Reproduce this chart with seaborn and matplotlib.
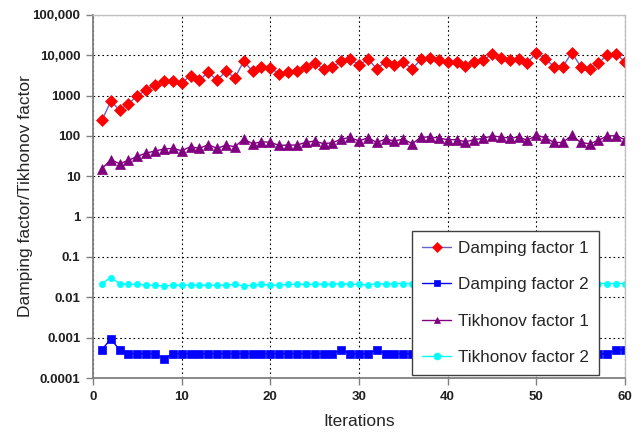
import numpy as np
import pandas as pd
import matplotlib
matplotlib.use("Agg")
import matplotlib.pyplot as plt
import matplotlib.ticker as mticker
import seaborn as sns

# ── Data ──────────────────────────────────────────────────────────────────
iterations = list(range(1, 61))

damping_1 = [
    243, 718, 446, 628, 1000, 1390, 1890, 2290, 2370, 2080,
    3100, 2420, 3810, 2420, 4040, 2760, 7150, 4040, 5270, 4790,
    3530, 3890, 4040, 5170, 6370, 4610, 5070, 7150, 8150, 5690,
    8000, 4700, 6870, 5690, 6870, 4530, 8150, 8470, 7700, 6870,
    6870, 5470, 6870, 7560, 10650, 8800, 7560, 8150, 6620, 11270,
    8150, 5270, 5270, 11700, 5270, 4700, 6370, 10240, 10830, 6870,
]

damping_2 = (
    [0.0005, 0.00093, 0.0005, 0.0004, 0.0004, 0.0004, 0.0004, 0.0003]
    + [0.0004] * 19
    + [0.0005, 0.0004, 0.0004, 0.0004, 0.0005]
    + [0.0004] * 26
    + [0.0005, 0.0005]
)

tikhonov_1 = [
    15.5, 25.8, 20.6, 24.9, 31.3, 37.8, 42.4, 47.5, 49.3, 43.2,
    54.2, 49.3, 60.8, 49.3, 59.6, 54.2, 84, 64.3, 72.1, 69.4,
    58.5, 59.6, 59.6, 69.4, 74.9, 64.3, 68.1, 84, 92, 75,
    91, 69, 84, 75, 84, 64, 94, 94, 89, 81,
    81, 72, 81, 87, 101, 94, 89, 94, 78, 105,
    91, 69, 69, 105, 69, 64, 78, 101, 101, 81,
]

tikhonov_2 = [
    0.022, 0.031, 0.022, 0.021, 0.021, 0.020, 0.020, 0.019, 0.020, 0.020,
    0.020, 0.020, 0.020, 0.020, 0.020, 0.021, 0.019, 0.020, 0.021, 0.020,
    0.020, 0.021, 0.021, 0.021, 0.021, 0.021, 0.021, 0.022, 0.021, 0.021,
    0.020, 0.022, 0.021, 0.022, 0.022, 0.022, 0.022, 0.022, 0.022, 0.022,
    0.022, 0.022, 0.022, 0.022, 0.022, 0.022, 0.022, 0.022, 0.022, 0.022,
    0.022, 0.022, 0.022, 0.022, 0.022, 0.022, 0.022, 0.022, 0.022, 0.022,
]

y_ticks = [1e-4, 1e-3, 1e-2, 1e-1, 1, 10, 100, 1000, 1e4, 1e5]
y_tick_labels = ["0.0001", "0.001", "0.01", "0.1", "1", "10", "100",
                 "1000", "10,000", "100,000"]
x_ticks = [0, 10, 20, 30, 40, 50, 60]

df = pd.DataFrame({
    "Iterations": iterations,
    "Damping factor 1": damping_1,
    "Damping factor 2": damping_2,
    "Tikhonov factor 1": tikhonov_1,
    "Tikhonov factor 2": tikhonov_2,
})

# ── Styling ───────────────────────────────────────────────────────────────
sns.set_style("white")
plt.rcParams["font.family"] = ["Liberation Sans", "DejaVu Sans"]

# series -> (line colour, marker, marker colour, marker size)
STYLES = {
    "Damping factor 1":  ("#6464c8", "D", "#ff0000", 5.8),
    "Damping factor 2":  ("#0000ff", "s", "#0000ff", 5.5),
    "Tikhonov factor 1": ("#800080", "^", "#800080", 7.5),
    "Tikhonov factor 2": ("#00ffff", "o", "#00ffff", 4.5),
}

fig = plt.figure(figsize=(6.44, 4.33), dpi=100)
ax = fig.add_axes([0.1444, 0.127, 0.8261, 0.8384])

for name, (lc, mk, mc, ms) in STYLES.items():
    sns.lineplot(data=df, x="Iterations", y=name, ax=ax, label=name,
                 color=lc, linewidth=1.0, marker=mk, markersize=ms,
                 markerfacecolor=mc, markeredgecolor=mc, markeredgewidth=0.5)

ax.set_yscale("log")
ax.set_ylim(1e-4, 1e5)
ax.set_xlim(0, 60)
ax.yaxis.set_major_locator(mticker.FixedLocator(y_ticks))
ax.yaxis.set_major_formatter(mticker.FixedFormatter(y_tick_labels))
ax.yaxis.set_minor_locator(mticker.NullLocator())
ax.xaxis.set_major_locator(mticker.FixedLocator(x_ticks))

ax.grid(True, color="black", linestyle=(0, (1.5, 2.5)), linewidth=0.8)
ax.tick_params(axis="both", direction="out", length=5, width=1,
               color="#808080", labelsize=9.5, pad=4)
ax.tick_params(axis="both", which="both", left=True, bottom=True)
for lab in ax.get_xticklabels() + ax.get_yticklabels():
    lab.set_fontweight("bold")
    lab.set_color("#202020")

for side in ["left", "bottom"]:
    ax.spines[side].set_color("#808080")
    ax.spines[side].set_linewidth(1.3)
for side in ["top", "right"]:
    ax.spines[side].set_color("#c0c0c0")
    ax.spines[side].set_linewidth(1.0)

ax.set_xlabel("Iterations", fontsize=12.5, labelpad=8)
ax.set_ylabel("Damping factor/Tikhonov factor", fontsize=12.5, labelpad=0)

leg = ax.legend(loc="lower left", bbox_to_anchor=(0.6, 0.008),
                fontsize=12.3, frameon=True, fancybox=False, framealpha=1,
                facecolor="white", labelspacing=1.25, borderpad=0.6,
                handlelength=1.7, handletextpad=0.4, borderaxespad=0)
leg.set_zorder(10)
leg.get_frame().set_edgecolor("#404040")
leg.get_frame().set_linewidth(1.0)
for h in leg.legend_handles:
    h.set_markersize(5)

fig.savefig("out.png", dpi=100)
